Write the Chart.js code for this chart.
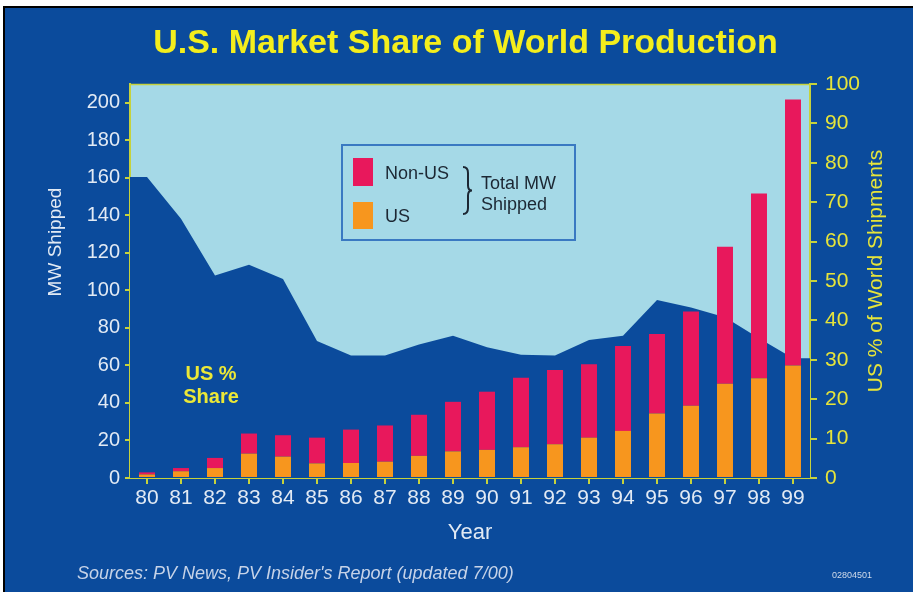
<!DOCTYPE html>
<html>
<head>
<meta charset="utf-8">
<script src="https://cdn.jsdelivr.net/npm/chart.js@4.4.0/dist/chart.umd.min.js"></script>
<style>
  html, body { margin: 0; padding: 0; background: #fff; }
</style>
</head>
<body>
<canvas id="chart" width="913" height="592"></canvas>
<script>
// data
const years = ["80","81","82","83","84","85","86","87","88","89","90","91","92","93","94","95","96","97","98","99"];
const usMW = [1.9, 3.6, 5.3, 13.0, 11.4, 7.8, 8.0, 8.7, 11.8, 14.2, 15.0, 16.4, 18.0, 21.5, 25.1, 34.4, 38.5, 50.3, 53.1, 60.0];
const nonUsMW = [1.1, 1.7, 5.4, 10.7, 11.4, 13.7, 17.8, 19.3, 21.9, 26.4, 31.0, 37.0, 39.5, 39.1, 45.3, 42.4, 50.3, 72.9, 98.5, 141.8];
const usSharePct = [76.4, 65.8, 51.4, 54.1, 50.5, 34.8, 31.1, 31.1, 33.9, 36.1, 33.2, 31.3, 31.1, 35.0, 36.1, 45.2, 43.3, 40.8, 35.5, 30.4];
const leftMax = 210, leftStep = 10, leftLabelEvery = 20;
const rightMax = 100, rightStep = 10;

const BLUE = "#0b4b9c";
const SKY = "#a5d9e7";
const AXIS = "#c6d23c";
const WHITE_TXT = "#e2eaf4";
const YELLOW = "#e6e43a";
const FONT = "'Liberation Sans', Arial, Helvetica, sans-serif";

Chart.defaults.font.family = FONT;

// share area gets flat ends out to the plot edges
const sharePoints = [{x: -0.5, y: usSharePct[0]}]
  .concat(usSharePct.map((v, i) => ({x: i, y: v})))
  .concat([{x: years.length - 0.5, y: usSharePct[usSharePct.length - 1]}]);

const decor = {
  id: "decor",
  beforeDraw(chart) {
    const {ctx, chartArea: a} = chart;
    ctx.save();
    ctx.fillStyle = "#fff";
    ctx.fillRect(0, 0, 913, 592);
    ctx.fillStyle = "#000";
    ctx.fillRect(3, 6, 910, 2);
    ctx.fillRect(3, 6, 2, 586);
    ctx.fillStyle = BLUE;
    ctx.fillRect(5, 8, 908, 584);
    ctx.fillStyle = SKY;
    ctx.fillRect(a.left, a.top, a.right - a.left, a.bottom - a.top);
    ctx.restore();
  },
  afterDraw(chart) {
    const {ctx, chartArea: a} = chart;
    ctx.save();
    // top frame line
    ctx.strokeStyle = AXIS;
    ctx.lineWidth = 1.5;
    ctx.beginPath();
    ctx.moveTo(a.left, a.top + 0.5);
    ctx.lineTo(a.right, a.top + 0.5);
    ctx.stroke();

    // legend box
    ctx.strokeStyle = "#3a79c2";
    ctx.lineWidth = 2;
    ctx.strokeRect(342, 145, 233, 95);
    ctx.fillStyle = "#e8185c";
    ctx.fillRect(353, 158, 20, 28);
    ctx.fillStyle = "#f7961e";
    ctx.fillRect(353, 202, 20, 27);
    ctx.fillStyle = "#1c2733";
    ctx.font = "18px " + FONT;
    ctx.textBaseline = "middle";
    ctx.textAlign = "left";
    ctx.fillText("Non-US", 385, 174);
    ctx.fillText("US", 385, 217);
    ctx.fillText("Total MW", 481, 184);
    ctx.fillText("Shipped", 481, 205);
    // brace
    const bx = 463, bt = 167, bb = 214, bm = (bt + bb) / 2;
    ctx.strokeStyle = "#1c2733";
    ctx.lineWidth = 2;
    ctx.beginPath();
    ctx.moveTo(bx, bt);
    ctx.quadraticCurveTo(bx + 5, bt, bx + 5, bt + 6);
    ctx.lineTo(bx + 5, bm - 5);
    ctx.quadraticCurveTo(bx + 5, bm, bx + 9, bm);
    ctx.quadraticCurveTo(bx + 5, bm, bx + 5, bm + 5);
    ctx.lineTo(bx + 5, bb - 6);
    ctx.quadraticCurveTo(bx + 5, bb, bx, bb);
    ctx.stroke();

    // US % Share note
    ctx.fillStyle = "#ece836";
    ctx.font = "bold 20px " + FONT;
    ctx.textAlign = "center";
    ctx.fillText("US %", 211, 374);
    ctx.fillText("Share", 211, 397);

    // axis titles
    ctx.font = "19px " + FONT;
    ctx.fillStyle = WHITE_TXT;
    ctx.translate(56, 242);
    ctx.rotate(-Math.PI / 2);
    ctx.fillText("MW Shipped", 0, 0);
    ctx.setTransform(1, 0, 0, 1, 0, 0);
    ctx.font = "21px " + FONT;
    ctx.fillStyle = YELLOW;
    ctx.translate(876, 271);
    ctx.rotate(-Math.PI / 2);
    ctx.fillText("US % of World Shipments", 0, 0);
    ctx.setTransform(1, 0, 0, 1, 0, 0);

    // footer
    ctx.textAlign = "left";
    ctx.font = "italic 18px " + FONT;
    ctx.fillStyle = "#c6d3e8";
    ctx.fillText("Sources: PV News, PV Insider's Report (updated 7/00)", 77, 574);
    ctx.font = "9px " + FONT;
    ctx.fillStyle = "#d0dbea";
    ctx.fillText("02804501", 832, 576);
    ctx.restore();
  }
};

const ctx = document.getElementById("chart").getContext("2d");
new Chart(ctx, {
  type: "bar",
  data: {
    labels: years,
    datasets: [
      {
        type: "line",
        label: "US % Share",
        data: sharePoints,
        xAxisID: "xs",
        yAxisID: "y2",
        backgroundColor: BLUE,
        borderWidth: 0,
        pointRadius: 0,
        fill: "origin",
        tension: 0,
        order: 2
      },
      {
        label: "US",
        data: usMW,
        backgroundColor: "#f7961e",
        borderWidth: 0,
        grouped: false,
        barPercentage: 0.47,
        categoryPercentage: 1,
        order: 1
      },
      {
        label: "Non-US",
        data: nonUsMW,
        backgroundColor: "#e8185c",
        borderWidth: 0,
        grouped: false,
        barPercentage: 0.47,
        categoryPercentage: 1,
        order: 1
      }
    ]
  },
  options: {
    responsive: false,
    animation: false,
    layout: { padding: { left: 18, right: 0, top: 0, bottom: 0 } },
    plugins: {
      legend: { display: false },
      tooltip: { enabled: false },
      title: {
        display: true,
        text: "U.S. Market Share of World Production",
        color: "#f4ee1c",
        font: { size: 34, weight: "bold", lineHeight: 1.2 },
        padding: { top: 23, bottom: 20.2 }
      }
    },
    scales: {
      x: {
        stacked: true,
        offset: true,
        grid: { offset: false, drawOnChartArea: false, tickLength: 6, color: AXIS, lineWidth: 2 },
        border: { color: AXIS, width: 2 },
        ticks: { color: WHITE_TXT, font: { size: 21 }, padding: 2, maxRotation: 0, autoSkip: false },
        title: { display: true, text: "Year", color: WHITE_TXT, font: { size: 22 }, padding: { top: 0, bottom: 46 } },
        afterFit(s) { s.height = 114; }
      },
      xs: {
        type: "linear",
        display: false,
        offset: false,
        min: -0.5,
        max: years.length - 0.5
      },
      y: {
        stacked: true,
        min: 0,
        max: leftMax,
        grid: { drawOnChartArea: false, tickLength: 5, color: AXIS, lineWidth: 2 },
        border: { color: AXIS, width: 2 },
        ticks: {
          stepSize: leftStep,
          color: WHITE_TXT,
          font: { size: 20 },
          padding: 5,
          callback: v => (v % leftLabelEvery === 0 && v <= 200) ? v : ""
        },
        afterFit(s) { s.width = 112; }
      },
      y2: {
        position: "right",
        min: 0,
        max: rightMax,
        grid: { drawOnChartArea: false, tickLength: 7, color: AXIS, lineWidth: 2 },
        border: { color: AXIS, width: 2 },
        ticks: { stepSize: rightStep, color: YELLOW, font: { size: 21 }, padding: 8 },
        afterFit(s) { s.width = 103; }
      }
    }
  },
  plugins: [decor]
});
</script>
</body>
</html>
